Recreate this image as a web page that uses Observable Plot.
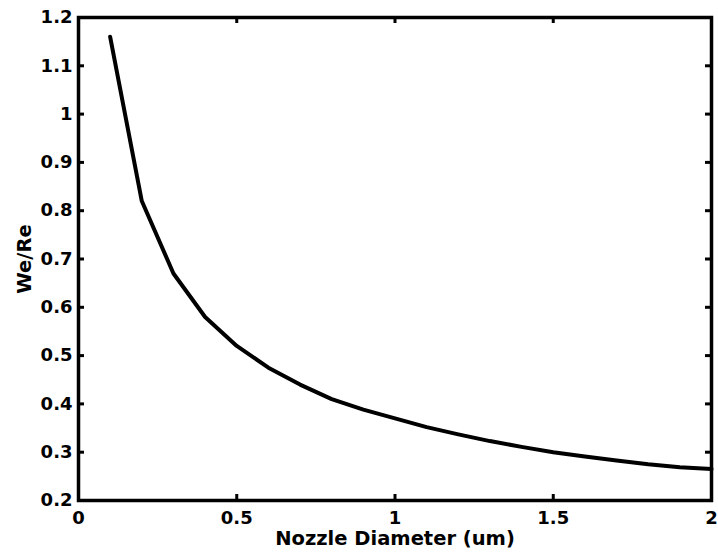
<!DOCTYPE html>
<html>
<head>
<meta charset="utf-8">
<script src="https://cdn.jsdelivr.net/npm/d3@7"></script>
<script src="https://cdn.jsdelivr.net/npm/@observablehq/plot@0.6"></script>
<style>
  html, body { margin: 0; padding: 0; background: #fff; }
  #chart { width: 718px; height: 558px; }
</style>
</head>
<body>
<div id="chart"></div>
<script>
// Data
const diameter = [0.1, 0.2, 0.3, 0.4, 0.5, 0.6, 0.7, 0.8, 0.9, 1.0,
                  1.1, 1.2, 1.3, 1.4, 1.5, 1.6, 1.7, 1.8, 1.9, 2.0];
const weRe = [1.16, 0.82, 0.67, 0.58, 0.52, 0.475, 0.44, 0.41, 0.388, 0.37,
              0.352, 0.337, 0.323, 0.311, 0.300, 0.291, 0.283, 0.275, 0.269, 0.265];

const xTicks = [0, 0.5, 1, 1.5, 2];
const xTickLabels = ["0", "0.5", "1", "1.5", "2"];
const yTicks = [0.2, 0.3, 0.4, 0.5, 0.6, 0.7, 0.8, 0.9, 1.0, 1.1, 1.2];
const yTickLabels = ["0.2", "0.3", "0.4", "0.5", "0.6", "0.7", "0.8", "0.9", "1", "1.1", "1.2"];
const xLabel = "Nozzle Diameter (um)";
const yLabel = "We/Re";

const rows = diameter.map((d, i) => ({d, v: weRe[i]}));
const xFmt = t => xTickLabels[xTicks.indexOf(t)];
const yFmt = t => yTickLabels[yTicks.findIndex(u => Math.abs(u - t) < 1e-9)];

const W = 718, H = 558, ML = 78, MR = 7, MT = 17, MB = 58;
const plotW = W - ML - MR, plotH = H - MT - MB;
const tickLen = 6;
const tickStyle = {stroke: "#000", strokeWidth: 3};

const chart = Plot.plot({
  width: W,
  height: H,
  marginLeft: ML,
  marginRight: MR,
  marginTop: MT,
  marginBottom: MB,
  style: {fontFamily: "'DejaVu Sans', sans-serif", fontWeight: "bold", fontSize: "18px", color: "#000", background: "#fff"},
  x: {domain: [0, 2]},
  y: {domain: [0.2, 1.2]},
  marks: [
    Plot.axisX(xTicks, {anchor: "bottom", tickSize: 0, tickPadding: 11, tickFormat: xFmt, label: null, fontSize: 18, fontWeight: "bold"}),
    Plot.axisY(yTicks, {anchor: "left", tickSize: 0, tickPadding: 6, tickFormat: yFmt, label: null, fontSize: 18, fontWeight: "bold"}),
    Plot.frame({stroke: "#000", strokeWidth: 3.5}),
    // inward ticks on all four sides
    Plot.tickX(xTicks, {x: d => d, insetTop: plotH - tickLen, ...tickStyle}),
    Plot.tickX(xTicks, {x: d => d, insetBottom: plotH - tickLen, ...tickStyle}),
    Plot.tickY(yTicks, {y: d => d, insetRight: plotW - tickLen, ...tickStyle}),
    Plot.tickY(yTicks, {y: d => d, insetLeft: plotW - tickLen, ...tickStyle}),
    Plot.line(rows, {x: "d", y: "v", stroke: "#000", strokeWidth: 4, strokeLinejoin: "round", strokeLinecap: "round"}),
    Plot.text([xLabel], {frameAnchor: "bottom", text: d => d, dy: 44, fontSize: 19.5, fontWeight: "bold", fill: "#000"}),
    Plot.text([yLabel], {frameAnchor: "left", textAnchor: "middle", text: d => d, rotate: -90, dx: -54, fontSize: 19.5, fontWeight: "bold", fill: "#000"})
  ]
});
document.getElementById("chart").appendChild(chart);
</script>
</body>
</html>
